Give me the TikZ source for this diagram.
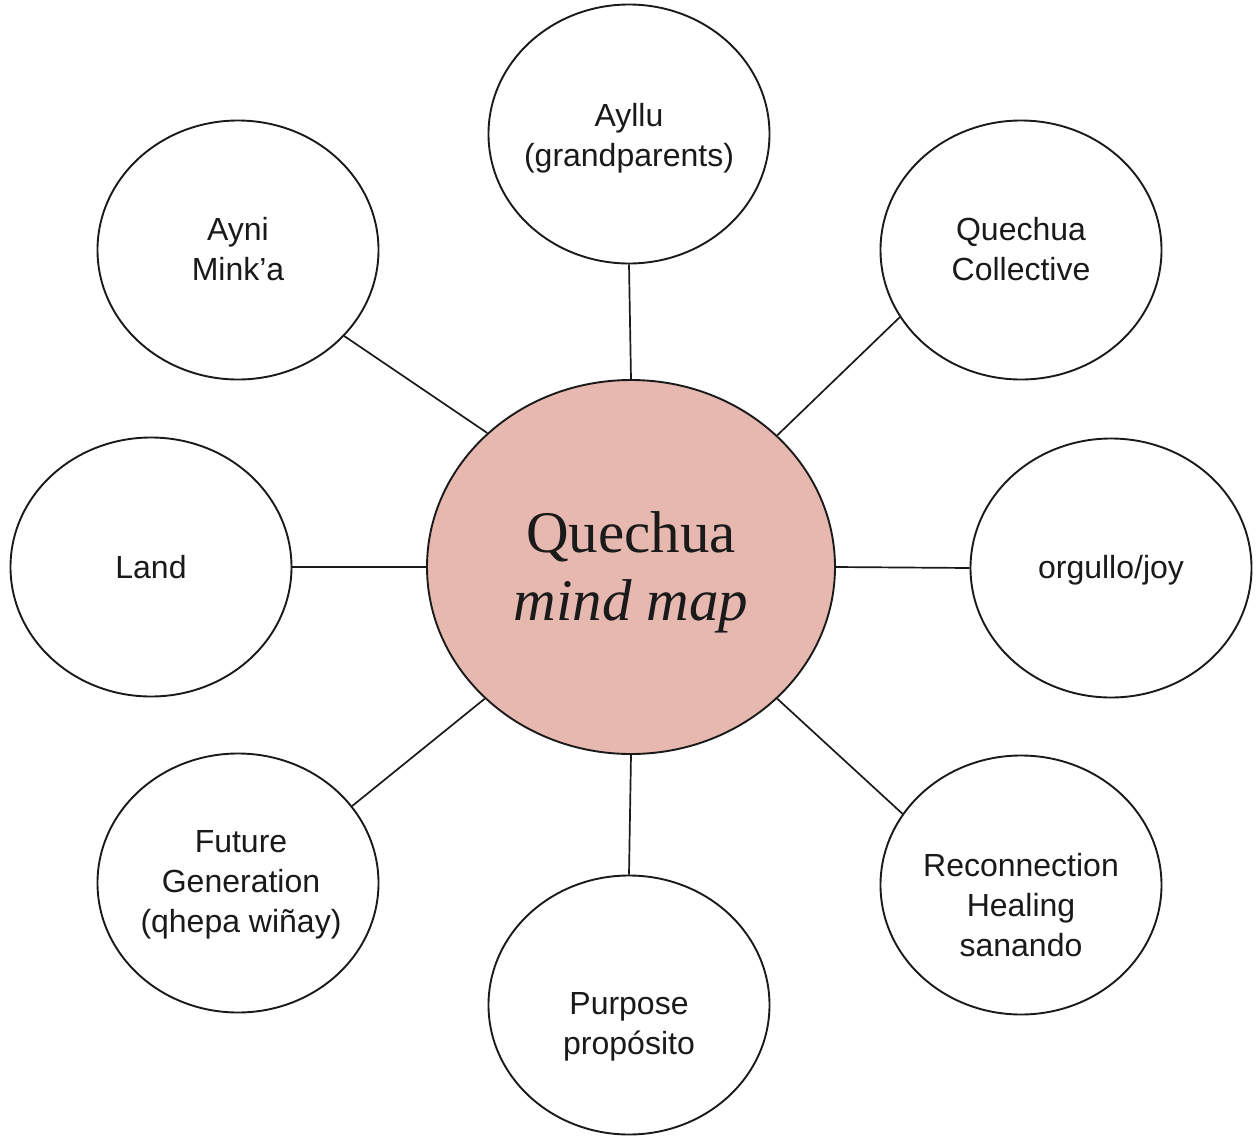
\documentclass[tikz,border=0pt]{standalone}
\usepackage{fontspec}
\setmainfont{Liberation Sans}
\newfontfamily\titlefont{Liberation Serif}
\usetikzlibrary{shapes.geometric}
\definecolor{berry}{HTML}{E6B8AF}
\definecolor{ink}{HTML}{1A1A1A}
\tikzset{
  bubble/.style={ellipse, draw=ink, line width=1.9pt, fill=white, inner sep=0pt,
    minimum width=281pt, minimum height=259pt},
  hub/.style={ellipse, draw=ink, line width=1.9pt, fill=berry, inner sep=0pt,
    minimum width=408pt, minimum height=374pt},
  label/.style={align=center, inner sep=0pt, text=ink, font=\fontsize{32}{40}\selectfont},
  hublabel/.style={align=center, inner sep=0pt, text=ink, font=\titlefont\fontsize{59}{68}\selectfont},
  link/.style={draw=ink, line width=1.7pt}
}
\begin{document}
\begin{tikzpicture}[x=1pt,y=-1pt]
\useasboundingbox (0,0) rectangle (1259,1141);
% hub
\node[hub] (hub) at (631,567) {};
\node[hublabel] (hubt) at (631,572) {Quechua\\\textit{mind map}};
% bubbles
\node[bubble] (ayllu)  at (629,134)  {};
\node[bubble] (ayni)   at (238,250)  {};
\node[bubble] (qcoll)  at (1021,250) {};
\node[bubble] (land)   at (151,567)  {};
\node[bubble] (joy)    at (1111,568) {};
\node[bubble] (future) at (238,883)  {};
\node[bubble] (purp)   at (629,1005) {};
\node[bubble] (recon)  at (1021,885) {};
% texts
\node[label] (ayllut)  at (629,138)  {Ayllu\\(grandparents)};
\node[label] (aynit)   at (238,249)  {Ayni\\Mink’a};
\node[label] (qcollt)  at (1021,249) {Quechua\\Collective};
\node[label] (landt)   at (151,567)  {Land};
\node[label] (joyt)    at (1111,570) {orgullo/joy};
\node[label] (futuret) at (241,885)  {Future\\Generation\\(qhepa wiñay)};
\node[label] (purpt)   at (629,1027) {Purpose\\propósito};
\node[label] (recont)  at (1021,905) {Reconnection\\Healing\\sanando};
% connectors
\draw[link] (hub.north) -- (ayllu.south);
\draw[link] (hub.137) -- (ayni.-39);
\draw[link] (hub.42.5) -- (qcoll.209.7);
\draw[link] (hub.west) -- (land.east);
\draw[link] (hub.east) -- (joy.west);
\draw[link] (hub.222.7) -- (future.34.9);
\draw[link] (hub.south) -- (purp.north);
\draw[link] (hub.-42.3) -- (recon.149.5);
\end{tikzpicture}
\end{document}
